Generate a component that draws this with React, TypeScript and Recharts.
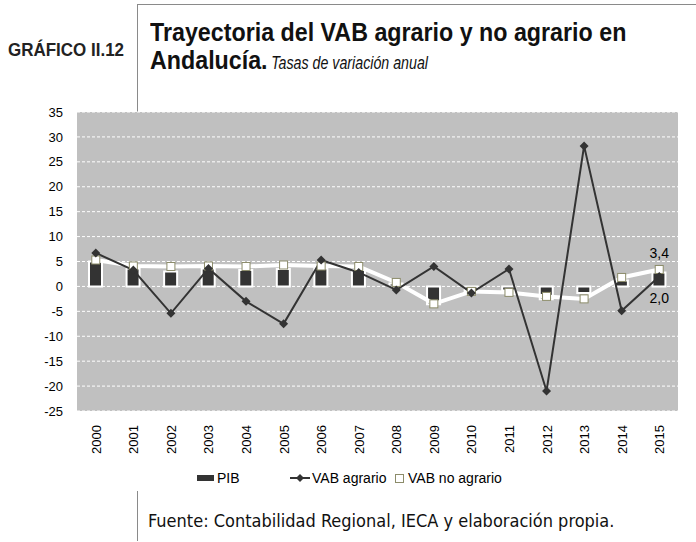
import React from 'react';
import {
  ComposedChart,
  Bar,
  Line,
  XAxis,
  YAxis,
  CartesianGrid,
  LabelList,
} from 'recharts';

// años y tasas de variación anual (%)
const years = ['2000', '2001', '2002', '2003', '2004', '2005', '2006', '2007', '2008', '2009', '2010', '2011', '2012', '2013', '2014', '2015'];
const pib = [5.0, 3.6, 3.0, 3.6, 3.3, 3.5, 3.6, 3.3, 0.6, -3.6, -0.9, -0.8, -2.6, -1.3, 1.2, 2.8];
const vabAgrario = [6.7, 3.3, -5.4, 3.6, -3.0, -7.5, 5.3, 2.8, -0.7, 4.0, -1.3, 3.5, -21.0, 28.2, -4.9, 2.0];
const vabNoAgrario = [5.3, 4.1, 4.0, 4.1, 4.0, 4.3, 4.1, 4.0, 0.8, -3.5, -1.0, -1.2, -2.0, -2.5, 1.8, 3.4];
const yTicks = [-25, -20, -15, -10, -5, 0, 5, 10, 15, 20, 25, 30, 35];

const data = years.map((y, i) => ({
  year: y,
  pib: pib[i],
  agrario: vabAgrario[i],
  noAgrario: vabNoAgrario[i],
}));

const Diamond = (props: any) => {
  const { cx, cy } = props;
  if (cx == null || cy == null) return null;
  return <path d={`M${cx},${cy - 4.5}L${cx + 4.5},${cy}L${cx},${cy + 4.5}L${cx - 4.5},${cy}Z`} fill='#333' />;
};

const Square = (props: any) => {
  const { cx, cy } = props;
  if (cx == null || cy == null) return null;
  return <rect x={cx - 4} y={cy - 4} width={8} height={8} fill='#fff' stroke='#8c8c6a' strokeWidth={1} />;
};

const YearTick = (props: any) => {
  const { x, y, payload } = props;
  return (
    <text
      transform={`translate(${x + 5},${y + 6}) rotate(-90)`}
      textAnchor='end'
      fontSize={13}
      fontFamily='Liberation Sans, Arial, sans-serif'
      fill='#000'
    >
      {payload.value}
    </text>
  );
};

// solo se etiqueta el último año
const lastLabel = (dy: number) => (props: any) => {
  const { x, y, value, index } = props;
  if (index !== years.length - 1) return null;
  return (
    <text x={x} y={y + dy} textAnchor='middle' fontSize={14} fontFamily='Liberation Sans, Arial, sans-serif' fill='#000'>
      {String(value.toFixed(1)).replace('.', ',')}
    </text>
  );
};

export default function App() {
  const line = '#8a8a8a';
  return (
    <div style={{ position: 'absolute', left: 0, top: 0, width: 696, height: 542, background: '#fff', fontFamily: 'Liberation Sans, Arial, sans-serif' }}>
      {/* cabecera */}
      <div style={{ position: 'absolute', left: 137, top: 4, width: 559, height: 1, background: line }} />
      <div style={{ position: 'absolute', left: 137, top: 4, width: 1, height: 108, background: line }} />
      <div style={{ position: 'absolute', left: 8, top: 40, fontSize: 17.5, fontWeight: 700, color: '#222', transform: 'scaleX(0.97)', transformOrigin: 'left' }}>GRÁFICO II.12</div>
      <div style={{ position: 'absolute', left: 150, top: 18, fontFamily: 'Liberation Sans, Arial, sans-serif', fontSize: 25, fontWeight: 700, lineHeight: '28px', color: '#111', transform: 'scaleX(0.93)', transformOrigin: 'left top', whiteSpace: 'nowrap' }}>
        Trayectoria del VAB agrario y no agrario en
        <br />
        Andalucía.<span style={{ fontWeight: 400, fontStyle: 'italic', fontSize: 18, display: 'inline-block', transform: 'scaleX(0.85)', transformOrigin: 'left' }}>&nbsp;Tasas de variación anual</span>
      </div>

      <div style={{ position: 'absolute', left: 0, top: 0 }}>
        <ComposedChart
          width={696}
          height={542}
          data={data}
          margin={{ top: 112, right: 18, bottom: 71, left: 17 }}
        >
          <CartesianGrid vertical={false} fill='#c0c0c0' stroke='#ffffff' strokeDasharray='3 2' strokeWidth={1} />
          <XAxis dataKey='year' axisLine={false} tickLine={false} interval={0} height={60} tick={<YearTick />} />
          <YAxis
            domain={[-25, 35]}
            ticks={yTicks}
            interval={0}
            axisLine={false}
            tickLine={false}
            width={60}
            tickMargin={8}
            tick={{ fontSize: 13, fill: '#000', fontFamily: 'Liberation Sans, Arial, sans-serif' }}
          />
          <Bar dataKey='pib' barSize={13} fill='#333333' stroke='#ffffff' strokeWidth={2} isAnimationActive={false} />
          <Line
            dataKey='noAgrario'
            stroke='#ffffff'
            strokeWidth={4}
            dot={<Square />}
            activeDot={false}
            isAnimationActive={false}
          >
            <LabelList dataKey='noAgrario' content={lastLabel(-11)} />
          </Line>
          <Line
            dataKey='agrario'
            stroke='#333333'
            strokeWidth={2}
            dot={<Diamond />}
            activeDot={false}
            isAnimationActive={false}
          >
            <LabelList dataKey='agrario' content={lastLabel(27)} />
          </Line>
        </ComposedChart>
      </div>

      {/* leyenda */}
      <svg style={{ position: 'absolute', left: 0, top: 468 }} width={696} height={20}>
        <rect x={197} y={7} width={17} height={6} fill='#333' />
        <text x={217} y={15} fontSize={14} fontFamily='Liberation Sans, Arial, sans-serif'>PIB</text>
        <line x1={290} y1={10} x2={310} y2={10} stroke='#333' strokeWidth={2} />
        <path d='M300,6L304,10L300,14L296,10Z' fill='#333' />
        <text x={312} y={15} fontSize={14} fontFamily='Liberation Sans, Arial, sans-serif'>VAB agrario</text>
        <rect x={395.5} y={6.5} width={8} height={8} fill='#fff' stroke='#8c8c6a' strokeWidth={1} />
        <text x={408} y={15} fontSize={14} fontFamily='Liberation Sans, Arial, sans-serif'>VAB no agrario</text>
      </svg>

      {/* fuente */}
      <div style={{ position: 'absolute', left: 137, top: 491, width: 1, height: 50, background: line }} />
      <div style={{ position: 'absolute', left: 148, top: 510, fontFamily: 'DejaVu Sans Condensed, DejaVu Sans, sans-serif', fontSize: 18, color: '#111', whiteSpace: 'nowrap' }}>
        Fuente: Contabilidad Regional, IECA y elaboración propia.
      </div>
    </div>
  );
}
